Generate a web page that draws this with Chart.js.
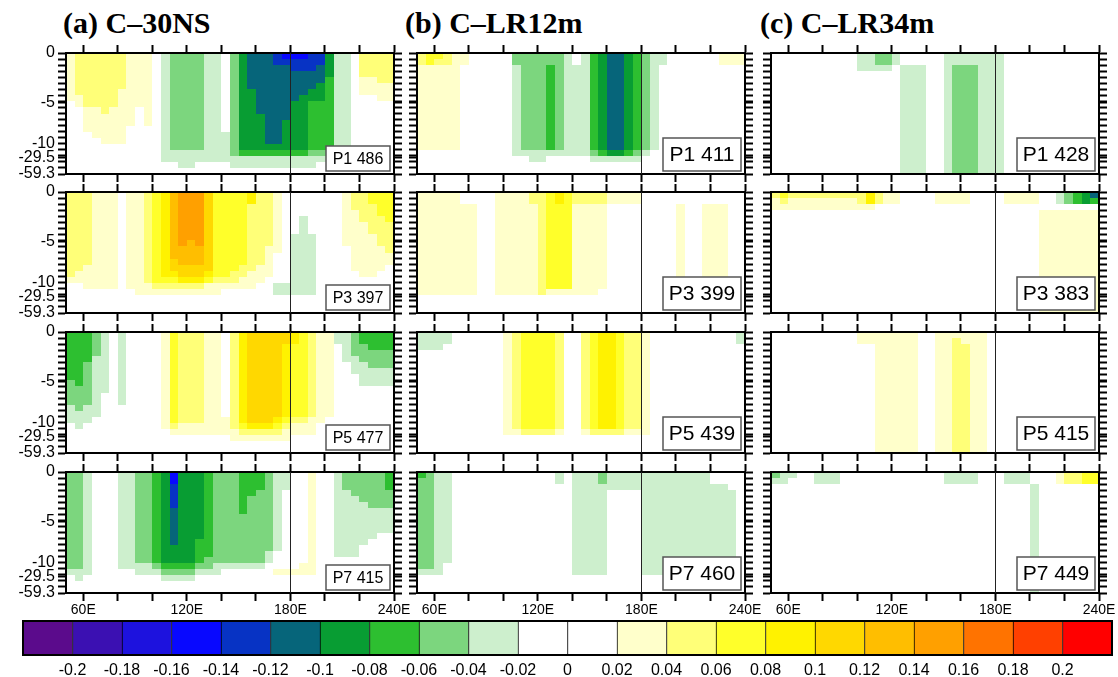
<!DOCTYPE html>
<html>
<head>
<meta charset="utf-8">
<script src="https://cdn.jsdelivr.net/npm/chart.js@4.4.1/dist/chart.umd.min.js"></script>
<style>
body { margin: 0; background: #fff; width: 1118px; height: 677px; position: relative; overflow: hidden; }
canvas { position: absolute; }
.title { position: absolute; top: 6px; font: bold 30px "Liberation Serif", "Times New Roman", serif; white-space: nowrap; color: #000; }
</style>
</head>
<body>
<div class="title" style="left:63px">(a) C–30NS</div>
<div class="title" style="left:405px">(b) C–LR12m</div>
<div class="title" style="left:760px">(c) C–LR34m</div>
<script>
// ---- axes ----
const lonMin = 50, lonMax = 240, lonStep = 5;          // each field column is a 5-degree bin from 50E
const lonTicks = [60, 80, 100, 120, 140, 160, 180, 200, 220, 240];
const lonTickText = ['60E', '', '', '120E', '', '', '180E', '', '', '240E'];
const levelTicks = [0, 1, 2, 3, 4, 5, 6, 7, 8, 9, 10, 11, 12, 13, 14, 15, 16, 17, 18, 19, 20];
const depthLabelPos = [0, 8.2, 15, 17.3, 20];
const depthLabelText = ['0', '-5', '-10', '-29.5', '-59.3'];

// ---- colour scale ----
const cbBounds = [-0.2, -0.18, -0.16, -0.14, -0.12, -0.1, -0.08, -0.06, -0.04, -0.02, 0,
                  0.02, 0.04, 0.06, 0.08, 0.1, 0.12, 0.14, 0.16, 0.18, 0.2];
const cbColors = ['#5b0b8c', '#3b10b2', '#1d12de', '#0808ff', '#0733c4', '#06657a', '#089d33', '#2dbf30',
                  '#7cd67e', '#cdefcd', '#ffffff', '#ffffff', '#ffffcb', '#ffff78', '#ffff2a', '#fff200',
                  '#ffd800', '#ffbe00', '#ffa000', '#ff7300', '#ff4000', '#ff0000'];

// ---- fields: one string per 5-degree column, top level first ----
// a..j = -0.03..-0.21, 1..9 = 0.03..0.19, '.' = near zero
const a_P1 = [
  "11111111", "222222211", "2222222221111", "22222222211111", "222222222211111",
  "222222222111111", "222222111111111", "111111111111", "111111111", "111111111111",
  "", "aaaaaaaaaaaaaaaaaa", "bbbbbbbbbbbbbbbbaa", "bbbbbbbbbbbbbbbbaaa", "bbbbbbbbbbbbbbbbaaa",
  "bbbbbbbbbbbbbbbbaa", "aaaaaaaaaaaaaaaaaa", "aaaaaaaaaaaaaaaaaa", ".............aaaaa", "bbbbbbbbbbbbbbbbbaa",
  "ddddddddddddddddcaa", "eeeeeeddddddddddcaa", "eeeeeeeeeeddddddcaa", "eeeeeeeeeeeeeeedcaa", "ffeeeeeeeeeeeeedcaa",
  "gfeeeeeeeeedddddcaa", "gffeeeeeddddddddcaa", "gffeeeedddddddddcaa", "fffeeeddccccccccbaa", "ffeeedddccccccccba",
  "ddddccccccccccccba", "aaaaaaaaaaaaaaaaa", "aaaaaaaaaaaaaaaa", "", "2222111",
  "2222111", "22222111", "22222111"
];
const a_P3 = [
  "222222222222221", "222222222222211", "2222222222221111", "1111111111111111", "1111111111111111",
  "1111111111111111", "", "1111111111111111", "11111111111111111", "22222222222222211",
  "33333333333333321", "44444444444444321", "66666666666554321", "77777777766655421", "77777777666655421",
  "77777777766655421", "55555555555554311", "33333333333333211", "3333333333333321", "3333333333333221",
  "3333333333332211", "4422222222222111", "222222222222111", "22222222211111", "1111111111.....aa",
  "...............aa", ".......aaaaaaaaaa", "....aaaaaaaaaaaaa", ".......aaaaaaaaaa", "",
  "", "", "111111111", "2221111111111", "22222111111111",
  "33222221111111", "3333222221111", "333332222211"
];
const a_P5 = [
  "ccccccccbbbbaaa", "cccccccccbbbbaaa", "cccccbbbbbbbaaa", "bbbbaaaaaaaaaa", "aaaaaaaaaa",
  "", "aaaaaaaaaaaa", "", "", "",
  "", "1111111111111111", "33333333333333321", "22222222222222211", "22222222222222211",
  "22222222222222211", "11111111111111111", "11111111111111111", "..............111", "222222222222222211",
  "444444444444444321", "555555555555555421", "555555555555555421", "555555555555555421", "555555555555554321",
  "554444444444443211", "44333333333333211", "33333333333333211", "22222222222222111", "111111111111111",
  "11111111111111", "aa", "aaaaa", "bbbbaaa", "ccbbbaaaa",
  "cccbbbaaa", "cccbbbaaa", "cccbbbaaa"
];
const a_P7 = [
  "bbbbbbbbbbbbbbbba", "bbbbbbbbbbbbbbbbaa", "aaaaaaaaaaaaaaaaa", "", "",
  "", "aaaaaaaaaaaaaaaa", "aaaaaaaaaaaaaaaa", "bbbbbbbbbbbbbbbaa", "bbbbbbbbbbbbbbbaa",
  "cccccccccccccccba", "dddddddddddddddcba", "ggffffeeeeeedddcba", "dddddddddddddddcba", "dddddddddddddddcba",
  "dddddddddddccccba", "ccccccccccccccbba", "bbbbbbbbbbbbbbbaa", "bbbbbbbbbbbbbbba", "bbbbbbbbbbbbbbba",
  "cccccccbbbbbbbba", "ccccbbbbbbbbbbba", "cccbbbbbbbbbbbba", "bbbbbbbbbbbbbaa", "aaaaaaaaaaaaa...1",
  "aaa.............1", "................1", "...............11", "11111111111111111", "",
  "", "aaaaaaaaaaaaaa", "bbbaaaaaaaaaaa", "bbbbaaaaaaaaaa", "bbbbbaaaaaaa",
  "bbbbbbaaaaa", "bbbbbbaaaa", "cccbbbaaaa"
];
const b_P1 = [
  "2211111111111111", "3311111111111111", "3211111111111111", "2211111111111111", "1111111111111111",
  "11", "", "", "", "",
  "", "bbaaaaaaaaaaaaaaa", "bbbbbbbbbbbbbbbba", "bbbbbbbbbbbbbbbbaa", "bbbbbbbbbbbbbbbbaa",
  "bbcccccccccccccca", "bbbbbbbbbbbbbbbba", "aaaaaaaaaaaaaaaaa", "..aaaaaaaaaaaaaaa", "aaaaaaaaaaaaaaaaa",
  "ccccccccccccccccba", "ddddddddddddddddca", "eeeeeeeeeeeeeeeeda", "eeeeeeeeeeeeeeeeda", "ddddddddddddddddca",
  "ccccccccccccccccba", "bbbbbbbbbbbbbbbba", "aaaaaaaaaaaaaaaa", "aa", "",
  "", "", "", "", "",
  "11", "11", "11"
];
const b_P3 = [
  "11111111111111111", "11111111111111111", "11111111111111111", "11111111111111111", "11111111111111111",
  "..111111111111111", "..111111111111111", "", "", "11111111111111111",
  "11111111111111111", "11111111111111111", "11111111111111111", "22111111111111111", "22222222222222222",
  "33333333333333331", "44333333333333331", "33333333333333331", "22111111111111111", "22111111111111111",
  "22111111111111111", "2211111111111111", "11", "11", "11",
  "11", "", "", "", "",
  "..11111111111111", "", "", "..11111111111111", "..11111111111111",
  "..11111111111111", "", ""
];
const b_P5 = [
  "aaa", "aaa", "aaa", "aa", "",
  "", "", "", "", "",
  "11111111111111111", "22222222222222221", "33333333333333332", "33333333333333332", "33333333333333332",
  "33333333333333332", "22222222222222221", "", "", "22222222222222221",
  "33333333333333332", "44444444444444442", "44444444444444442", "33333333333333332", "22222222222222221",
  "22222222222222221", "11111111111111111", "", "", "",
  "", "", "", "", "",
  "", "", "aa"
];
const b_P7 = [
  "cbbbbbbbbbbbbbbba", "bbbbbbbbbbbbbbbba", "aaaaaaaaaaaaaaaaa", "aaaaaaaaaaaaaaa", "",
  "", "", "", "", "",
  "", "", "", "", "",
  "", "aa", "", "aaaaaaaaaaaaaaaaa", "aaaaaaaaaaaaaaaaa",
  "aaaaaaaaaaaaaaaaa", "bbaaaaaaaaaaaaaaa", "aaa", "aaa", "aaa",
  "aaa", "aaaaaaaaaaaaaaaaa", "aaaaaaaaaaaaaaaaa", "aaaaaaaaaaaaaaaaa", "aaaaaaaaaaaaaaaaa",
  "aaaaaaaaaaaaaaaaa", "aaaaaaaaaaaaaaaaa", "aaaaaaaaaaaaaaaaa", "aaaaaaaaaaaaaaaaa", "..aaaaaaaaaaaaaaa",
  "..aaaaaaaaaaaaaaa", "...aaaaaaaaaaaaa", ""
];
const c_P1 = [
  "", "", "", "", "",
  "", "", "", "", "",
  "aaa", "aaa", "bba", "bba", "aa",
  "..aaaaaaaaaaaaaaaaaa", "..aaaaaaaaaaaaaaaaaa", "..aaaaaaaaaaaaaaaaaa", "", "",
  "aaaaaaaaaaaaaaaaaaaa", "aabbbbbbbbbbbbbbbbbb", "aabbbbbbbbbbbbbbbbbb", "aabbbbbbbbbbbbbbbbbb", "aaaaaaaaaaaaaaaaaaaa",
  "aaaaaaaaaaaaaaaaaaaa", "aaaaaaaaaaaaaaaaaaaa", "", "", "",
  "", "", "", "", "",
  "", "", ""
];
const c_P3 = [
  "211", "321", "211", "211", "211",
  "211", "211", "211", "211", "211",
  "221", "441", "22", "11", "11",
  "", "", "", "", "11",
  "11", "11", "11", "", "",
  "", "", "11", "11", "11",
  "11", "...11111111111111111", "...11111111111111111", "aa.11111111111111111", "bb.11111111111111111",
  "cc.11111111111111111", "dd.11111111111111111", "ec.11111111111111111"
];
const c_P5 = [
  "", "", "", "", "",
  "", "", "", "", "",
  "11", "11", "11111111111111111111", "11111111111111111111", "11111111111111111111",
  "11111111111111111111", "11111111111111111111", "", "", "11111111111111111111",
  "11111111111111111111", "12222222222222222222", "11222222222222222222", "11111111111111111111", "11111111111111111111",
  "", "", "", "", "",
  "", "", "", "", "",
  "", "", ""
];
const c_P7 = [
  "ba", "aa", "a", "", "",
  "aa", "aa", "aa", "", "",
  "", "", "", "", "",
  "", "", "", "", "",
  "aa", "aa", "aa", "aa", "",
  "", "", "aa", "aa", "aa",
  "..aaaaaaaaaaaaaaaaaa", "", "", "11", "22",
  "22", "33", "33"
];

const periods = ['P1', 'P3', 'P5', 'P7'];
const counts = [[486, 397, 477, 415], [411, 399, 439, 460], [428, 383, 415, 449]];
const fields = [[a_P1, a_P3, a_P5, a_P7], [b_P1, b_P3, b_P5, b_P7], [c_P1, c_P3, c_P5, c_P7]];

// ---- layout ----
const colLeft = [66, 417, 771];
const rowTop = [53, 192, 332, 472];
const plotW = 328, plotH = 121;

Chart.defaults.font.family = '"Liberation Sans", Arial, Helvetica, sans-serif';
Chart.defaults.color = '#000';

function cellValue(ch) {
  if (ch >= 'a' && ch <= 'j') return -(0.01 + 0.02 * (ch.charCodeAt(0) - 96));
  if (ch >= '1' && ch <= '9') return 0.01 + 0.02 * Number(ch);
  return 0;
}
function colorFor(v) {
  return cbColors[cbBounds.filter(b => b < v).length];
}

const fieldPlugin = {
  id: 'field',
  beforeDraw(chart, args, opts) {
    const { ctx, scales: { x, y } } = chart;
    ctx.save();
    opts.data.forEach((colStr, i) => {
      const x0 = Math.round(x.getPixelForValue(lonMin + i * lonStep));
      const x1 = Math.round(x.getPixelForValue(lonMin + (i + 1) * lonStep));
      for (let j = 0; j < colStr.length; j++) {
        const v = cellValue(colStr[j]);
        if (v === 0) continue;
        const y0 = Math.round(y.getPixelForValue(j));
        const y1 = Math.round(y.getPixelForValue(j + 1));
        ctx.fillStyle = colorFor(v);
        ctx.fillRect(x0, y0, x1 - x0, y1 - y0);
      }
    });
    ctx.restore();
  },
  afterDraw(chart, args, opts) {
    const { ctx, chartArea, scales: { x } } = chart;
    ctx.save();
    const xm = Math.round(x.getPixelForValue(180)) + 0.5;
    ctx.strokeStyle = '#222';
    ctx.lineWidth = 1;
    ctx.beginPath();
    ctx.moveTo(xm, chartArea.top);
    ctx.lineTo(xm, chartArea.bottom);
    ctx.stroke();
    const bw = opts.boxW, bh = opts.boxH;
    const bx = chartArea.right - 4 - bw, by = chartArea.bottom - 3 - bh;
    ctx.fillStyle = '#fff';
    ctx.fillRect(bx, by, bw, bh);
    ctx.strokeStyle = '#555';
    ctx.lineWidth = 1.5;
    ctx.strokeRect(bx, by, bw, bh);
    ctx.fillStyle = '#000';
    ctx.font = opts.fontSize + 'px "Liberation Sans", Arial, sans-serif';
    ctx.textAlign = 'center';
    ctx.textBaseline = 'middle';
    ctx.fillText(opts.label, bx + bw / 2, by + bh / 2 + 1);
    ctx.restore();
  }
};

function addPanel(col, row) {
  const last = row === periods.length - 1;
  const padL = 62, padR = 26, padT = 18, padB = last ? 38 : 18;
  const canvas = document.createElement('canvas');
  canvas.width = plotW + padL + padR;
  canvas.height = plotH + padT + padB;
  canvas.style.left = (colLeft[col] - padL) + 'px';
  canvas.style.top = (rowTop[row] - padT) + 'px';
  document.body.appendChild(canvas);

  const tickGrid = { drawOnChartArea: false, drawTicks: true, tickLength: 8, tickWidth: 2, tickColor: '#000' };
  const frame = { display: true, color: '#000', width: 2 };
  const lonAxis = (position, size, labels) => ({
    type: 'linear', position: position, min: lonMin, max: lonMax,
    afterBuildTicks: s => { s.ticks = lonTicks.map(v => ({ value: v })); },
    afterFit: s => { s.height = size; },
    grid: tickGrid, border: frame,
    ticks: { display: labels, autoSkip: false, maxRotation: 0, padding: 1, font: { size: 14 },
             callback: v => lonTickText[lonTicks.indexOf(v)] }
  });
  const depthTicks = levelTicks.concat(depthLabelPos.filter(p => levelTicks.indexOf(p) < 0)).sort((p, q) => p - q);
  const depthAxis = (position, size, labels) => ({
    type: 'linear', position: position, min: 0, max: 20, reverse: true,
    afterBuildTicks: s => { s.ticks = depthTicks.map(v => ({ value: v })); },
    afterFit: s => { s.width = size; },
    grid: tickGrid, border: frame,
    ticks: { display: labels, autoSkip: false, padding: 3, font: { size: 16 },
             callback: v => {
               const k = depthLabelPos.findIndex(p => Math.abs(p - v) < 1e-6);
               return k >= 0 && col === 0 ? depthLabelText[k] : '';
             } }
  });

  new Chart(canvas, {
    type: 'scatter',
    data: { datasets: [] },
    options: {
      responsive: false, animation: false, events: [],
      layout: { padding: 0 },
      plugins: {
        legend: { display: false }, tooltip: { enabled: false },
        field: {
          data: fields[col][row],
          label: periods[row] + ' ' + counts[col][row],
          boxW: col === 0 ? 64 : 78, boxH: col === 0 ? 25 : 33, fontSize: col === 0 ? 16 : 21
        }
      },
      scales: {
        x: lonAxis('bottom', padB, last),
        xTop: lonAxis('top', padT, false),
        y: depthAxis('left', padL, col === 0),
        yRight: depthAxis('right', padR, false)
      }
    },
    plugins: [fieldPlugin]
  });
}

for (let c = 0; c < 3; c++) for (let r = 0; r < 4; r++) addPanel(c, r);

// ---- colour bar ----
const cbCanvas = document.createElement('canvas');
cbCanvas.width = 1118; cbCanvas.height = 67;
cbCanvas.style.left = '0px'; cbCanvas.style.top = '610px';
document.body.appendChild(cbCanvas);
new Chart(cbCanvas, {
  type: 'bar',
  data: {
    labels: ['cb'],
    datasets: [{
      data: cbColors.map((c, i) => ({ x: [i, i + 1], y: 'cb' })),
      backgroundColor: cbColors,
      borderColor: '#000',
      borderWidth: { left: 1, right: 0, top: 0, bottom: 0 },
      borderSkipped: false,
      barPercentage: 1, categoryPercentage: 1
    }]
  },
  options: {
    indexAxis: 'y', responsive: false, animation: false, events: [],
    layout: { padding: { left: 23, right: 6, top: 11, bottom: 0 } },
    plugins: { legend: { display: false }, tooltip: { enabled: false } },
    scales: {
      x: {
        type: 'linear', min: 0, max: cbColors.length,
        afterBuildTicks: s => { s.ticks = cbBounds.map((b, i) => ({ value: i + 1 })); },
        afterFit: s => { s.height = 22; },
        grid: { display: false }, border: { display: false },
        ticks: { autoSkip: false, maxRotation: 0, padding: -2, font: { size: 16 },
                 callback: v => String(cbBounds[v - 1]) }
      },
      y: { display: false }
    }
  },
  plugins: [{
    id: 'cbFrame',
    afterDraw(chart) {
      const { ctx, chartArea: a } = chart;
      ctx.save();
      ctx.strokeStyle = '#000';
      ctx.lineWidth = 2;
      ctx.strokeRect(a.left, a.top, a.right - a.left, a.bottom - a.top);
      ctx.restore();
    }
  }]
});
</script>
</body>
</html>
